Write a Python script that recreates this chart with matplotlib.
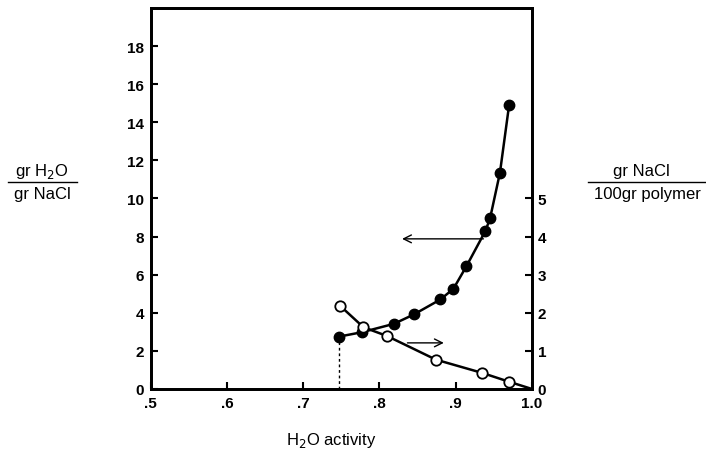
import matplotlib
matplotlib.use('Agg')
import matplotlib.pyplot as plt
from matplotlib.lines import Line2D

plt.rcParams['font.family'] = ['Liberation Sans', 'DejaVu Sans']

# water uptake (filled circles, left axis)
aw_water = [0.747, 0.777, 0.819, 0.845, 0.880, 0.897, 0.914, 0.939, 0.945, 0.958, 0.970]
water = [2.75, 2.98, 3.42, 3.91, 4.70, 5.26, 6.44, 8.30, 8.95, 11.35, 14.9]

# salt content (open circles, right axis); last point is where the curve meets the axis
aw_salt = [0.748, 0.779, 0.810, 0.874, 0.935, 0.970, 1.0]
salt = [2.19, 1.62, 1.39, 0.77, 0.42, 0.19, 0.0]

xticks = [0.5, 0.6, 0.7, 0.8, 0.9, 1.0]
xticklabels = ['.5', '.6', '.7', '.8', '.9', '1.0']
left_ticks = list(range(0, 19, 2))
right_ticks = [0, 1, 2, 3, 4, 5]

fig = plt.figure(figsize=(7.06, 4.52), dpi=100)
ax = fig.add_axes([0.2135, 0.1372, 0.54, 0.843])
ax2 = ax.twinx()

ax.set_xlim(0.5, 1.0)
ax.set_ylim(0, 20)
ax2.set_ylim(0, 10)

ax.plot(aw_water, water, '-', color='black', lw=1.8, marker='o', ms=7.5,
        mfc='black', mec='black', zorder=3)
ax2.plot(aw_salt, salt, '-', color='black', lw=1.8, marker='o', ms=7.5,
         mfc='white', mec='black', mew=1.3, markevery=list(range(len(salt) - 1)), zorder=3)

# dotted drop line at the first point
ax.plot([aw_water[0], aw_water[0]], [0, water[0]], ls=(0, (2, 2)), color='black', lw=1)

# arrows pointing to the relevant axis
ax.annotate('', xy=(0.826, 7.88), xytext=(0.940, 7.88),
            arrowprops=dict(arrowstyle='->', color='black', lw=1, mutation_scale=14))
ax.annotate('', xy=(0.888, 2.42), xytext=(0.833, 2.42),
            arrowprops=dict(arrowstyle='->', color='black', lw=1, mutation_scale=14))

ax.set_xticks(xticks)
ax.set_xticklabels(xticklabels)
ax.set_yticks(left_ticks)
ax2.set_yticks(right_ticks)

for a in (ax, ax2):
    for s in a.spines.values():
        s.set_linewidth(2)
    a.tick_params(direction='in', length=5, width=1.5, labelsize=11)
    for lab in a.get_xticklabels() + a.get_yticklabels():
        lab.set_fontweight('bold')
ax.tick_params(axis='x', pad=5)
ax.tick_params(axis='y', pad=5, right=False)
ax2.tick_params(axis='y', pad=4)

# axis labels drawn as stacked fractions
fig.text(42 / 706, 1 - 172 / 452, 'gr H$_2$O', ha='center', va='center', fontsize=12)
fig.text(42 / 706, 1 - 194 / 452, 'gr NaCl', ha='center', va='center', fontsize=12)
fig.add_artist(Line2D([8 / 706, 77 / 706], [1 - 183 / 452] * 2, color='black', lw=1,
                      transform=fig.transFigure))

fig.text(641 / 706, 1 - 172 / 452, 'gr NaCl', ha='center', va='center', fontsize=12)
fig.text(647 / 706, 1 - 195 / 452, '100gr polymer', ha='center', va='center', fontsize=12)
fig.add_artist(Line2D([588 / 706, 705 / 706], [1 - 183 / 452] * 2, color='black', lw=1,
                      transform=fig.transFigure))

fig.text(331 / 706, 1 - 441 / 452, 'H$_2$O activity', ha='center', va='center', fontsize=12)

fig.savefig('out.png', dpi=100)
